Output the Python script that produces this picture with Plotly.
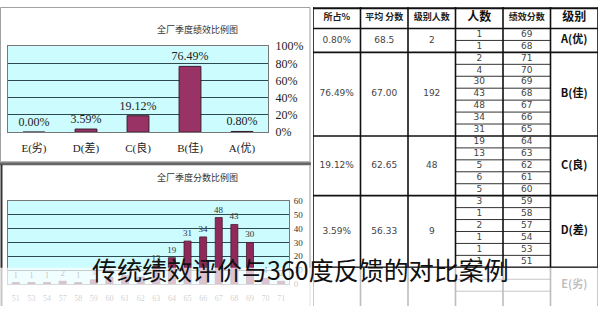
import plotly.graph_objects as go

# ---- 级别汇总 ----
levels = ["A(优)", "B(佳)", "C(良)", "D(差)", "E(劣)"]
level_pcts = [0.80, 76.49, 19.12, 3.59, 0.00]
level_heads = ["2", "192", "48", "9", ""]
level_avgs = ["68.5", "67.00", "62.65", "56.33", ""]
level_pct_labels = ["0.80%", "76.49%", "19.12%", "3.59%", ""]

# ---- 各级别绩效分数与人数 ----
a_scores = [69, 68]
a_counts = [1, 1]
b_scores = [71, 70, 69, 68, 67, 66, 65]
b_counts = [2, 4, 30, 43, 48, 34, 31]
c_scores = [64, 63, 62, 61, 60]
c_counts = [19, 13, 5, 6, 5]
d_scores = [59, 58, 57, 54, 53, 51]
d_counts = [3, 1, 2, 1, 1, 1]
e_blank_rows = 3

# ---- 分数分布 ----
dist_scores = [71, 70, 69, 68, 67, 66, 65, 64, 63, 62, 61, 60, 59, 58, 57, 54, 53, 51]
dist_counts = [2, 4, 30, 43, 48, 34, 31, 19, 13, 5, 6, 5, 3, 1, 2, 1, 1, 1]

table_headers = ["级别", "绩效分数", "人数", "级别人数", "平均 分数", "所占%"]
header_bold = [True, False, True, False, False, False]

title_top = "全厂季度绩效比例图"
title_bottom = "全厂季度分数比例图"
caption = "传统绩效评价与360度反馈的对比案例"

W, H = 600, 313
SERIF = "Liberation Serif, Noto Sans CJK SC"
CJK = "Noto Sans CJK SC"
BAR = "#993366"
PLOT_BG = "#ccfcfe"
GRID = "#2c4a50"


def px(x):
    return x / W


def py(y):
    return 1 - y / H


fig = go.Figure()

# 季度绩效比例柱状图
fig.add_trace(go.Bar(
    x=levels, y=level_pcts, xaxis="x", yaxis="y",
    marker=dict(color=BAR, line=dict(color="#3a1a2a", width=1)),
    width=0.42,
    text=[f"{v:.2f}%" for v in level_pcts], textposition="outside",
    constraintext="none",
    textfont=dict(family=SERIF, size=12, color="#222"),
    cliponaxis=False, showlegend=False,
))

# 季度分数分布柱状图
fig.add_trace(go.Bar(
    x=[str(s) for s in dist_scores], y=dist_counts, xaxis="x2", yaxis="y2",
    marker=dict(color="#8e2a5a", line=dict(color="#4a1a30", width=0.8)),
    width=0.45,
    text=[str(c) for c in dist_counts], textposition="outside",
    constraintext="none",
    textfont=dict(family=SERIF, size=9, color="#333"),
    cliponaxis=False, showlegend=False,
))

# ---- 表格（行/列单位坐标）----
groups = [
    (a_scores, a_counts),
    (b_scores, b_counts),
    (c_scores, c_counts),
    (d_scores, d_counts),
    ([], []),
]
HEADER_H = 1.8
row_px = 12.5
y_bottom = -HEADER_H + H / row_px

shapes = []

# 两个图表的浅青色绘图区
for ax in ("", "2"):
    shapes.append(dict(type="rect", xref=f"x{ax} domain", yref=f"y{ax} domain",
                       x0=0, x1=1, y0=0, y1=1, fillcolor=PLOT_BG,
                       line=dict(width=0), layer="below"))

starts = []
r = 0
for scores, counts in groups:
    n = len(scores) if scores else e_blank_rows
    starts.append((r, n))
    r += n

# 表头文字
hx, hy, ht = [], [], []
bx, by, bt = [], [], []
for i, h in enumerate(table_headers):
    if header_bold[i]:
        bx.append(i + 0.5); by.append(-HEADER_H / 2); bt.append(h)
    else:
        hx.append(i + 0.5); hy.append(-HEADER_H / 2); ht.append(h)
fig.add_trace(go.Scatter(x=hx, y=hy, text=ht, mode="text", xaxis="x3", yaxis="y3",
                         textfont=dict(family=CJK, size=9, color="#222", weight="bold"),
                         showlegend=False, hoverinfo="skip"))
fig.add_trace(go.Scatter(x=bx, y=by, text=bt, mode="text", xaxis="x3", yaxis="y3",
                         textfont=dict(family=CJK, size=12, color="#111", weight="bold"),
                         showlegend=False, hoverinfo="skip"))

# 数据单元格
vx, vy, vt = [], [], []
lx, ly, lt = [], [], []
for g, ((scores, counts), (s0, n)) in enumerate(zip(groups, starts)):
    mid = s0 + n / 2
    lx.append(0.5); ly.append(mid); lt.append(levels[g])
    for k, (s, c) in enumerate(zip(scores, counts)):
        vx += [1.5, 2.5]; vy += [s0 + k + 0.5] * 2; vt += [str(s), str(c)]
    for col, val in ((3.5, level_heads[g]), (4.5, level_avgs[g]), (5.5, level_pct_labels[g])):
        if val:
            vx.append(col); vy.append(mid); vt.append(val)
    # 组内细分线
    for k in range(1, n):
        shapes.append(dict(type="line", xref="x3", yref="y3", x0=1, x1=3,
                           y0=s0 + k, y1=s0 + k, line=dict(color="#333", width=1)))
    # 组分隔线
    shapes.append(dict(type="line", xref="x3", yref="y3", x0=0, x1=6,
                       y0=s0, y1=s0, line=dict(color="#111", width=1.6)))

fig.add_trace(go.Scatter(x=vx, y=vy, text=vt, mode="text", xaxis="x3", yaxis="y3",
                         textfont=dict(family="DejaVu Sans, Noto Sans CJK SC", size=9, color="#444"),
                         showlegend=False, hoverinfo="skip"))
fig.add_trace(go.Scatter(x=lx, y=ly, text=lt, mode="text", xaxis="x3", yaxis="y3",
                         textfont=dict(family=CJK, size=11, color="#111", weight="bold"),
                         showlegend=False, hoverinfo="skip"))

# 表格边框与竖线
shapes.append(dict(type="line", xref="x3", yref="y3", x0=0, x1=6, y0=-HEADER_H + 0.1,
                   y1=-HEADER_H + 0.1, line=dict(color="#111", width=2)))
for c in range(7):
    shapes.append(dict(type="line", xref="x3", yref="y3", x0=c, x1=c,
                       y0=-HEADER_H, y1=y_bottom, line=dict(color="#111", width=1.6)))

# 左侧图框
shapes += [
    dict(type="rect", xref="paper", yref="paper", x0=px(0.5), x1=px(310), y0=py(0.5), y1=py(162),
         line=dict(color="#a0a0a0", width=1), layer="below"),
    dict(type="line", xref="paper", yref="paper", x0=0, x1=px(311), y0=py(164), y1=py(164),
         line=dict(color="#666", width=3)),
    dict(type="line", xref="paper", yref="paper", x0=px(1.5), x1=px(1.5), y0=py(165), y1=0,
         line=dict(color="#333", width=2)),
    dict(type="line", xref="paper", yref="paper", x0=px(310), x1=px(310), y0=py(165), y1=0,
         line=dict(color="#999", width=1)),
]

# 标题文字下方的半透明白色横条
shapes.append(dict(type="rect", xref="paper", yref="paper", x0=0, x1=1, y0=0, y1=py(273),
                   fillcolor="rgba(255,255,255,0.72)", line=dict(width=0), layer="above"))

annotations = [
    dict(text=title_top, x=px(155), y=py(15), xref="paper", yref="paper", showarrow=False,
         font=dict(family=CJK, size=9, color="#333")),
    dict(text=title_bottom, x=px(155), y=py(178), xref="paper", yref="paper", showarrow=False,
         font=dict(family=CJK, size=9, color="#333")),
    dict(text=caption, x=0.5, y=py(295), xref="paper", yref="paper", showarrow=False,
         font=dict(family=CJK, size=25, color="#111")),
]

axis_common = dict(showline=True, mirror=True, linecolor="#777", linewidth=1, fixedrange=True)

fig.update_layout(
    width=W, height=H, margin=dict(l=0, r=0, t=0, b=0),
    paper_bgcolor="white", plot_bgcolor="white",
    bargap=0.5,
    xaxis=dict(domain=[px(8), px(268)], anchor="y", autorange="reversed", type="category",
               tickfont=dict(family=SERIF, size=11, color="#222"), ticks="",
               ticklabelstandoff=6, **axis_common),
    yaxis=dict(domain=[py(131), py(41)], anchor="x", side="right", range=[0, 100], dtick=20,
               ticksuffix="%", showgrid=True, gridcolor=GRID, gridwidth=1, zeroline=False,
               tickfont=dict(family=SERIF, size=12, color="#222"), ticklabelstandoff=4,
               **axis_common),
    xaxis2=dict(domain=[px(8), px(289)], anchor="y2", autorange="reversed", type="category",
                tickfont=dict(family=SERIF, size=8, color="#555"), ticks="",
                ticklabelstandoff=6, **axis_common),
    yaxis2=dict(domain=[py(290), py(203)], anchor="x2", side="right", range=[0, 60], dtick=10,
                showgrid=True, gridcolor=GRID, gridwidth=1, zeroline=False,
                tickfont=dict(family=SERIF, size=9, color="#333"), ticklabelstandoff=2,
                **axis_common),
    xaxis3=dict(domain=[px(313), px(598)], anchor="y3", range=[6, 0], visible=False, fixedrange=True),
    yaxis3=dict(domain=[0, 1], anchor="x3", range=[y_bottom, -HEADER_H], visible=False, fixedrange=True),
    shapes=shapes, annotations=annotations,
)

fig.write_html("out.html")
